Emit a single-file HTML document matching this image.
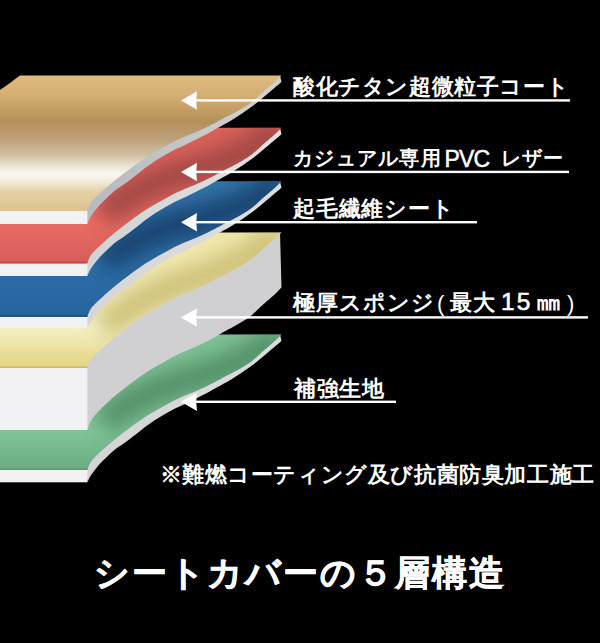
<!DOCTYPE html>
<html><head><meta charset="utf-8"><style>
html,body{margin:0;padding:0;background:#000;}
body{width:600px;height:643px;position:relative;overflow:hidden;font-family:"Liberation Sans",sans-serif;color:#fff;}
svg{position:absolute;left:0;top:0;}
.l{position:absolute;font-size:22px;font-weight:bold;white-space:nowrap;line-height:1;}
.note{position:absolute;left:159.5px;top:464px;font-size:22px;font-weight:bold;white-space:nowrap;line-height:1;letter-spacing:0.6px;}
.title{position:absolute;left:94px;top:555px;font-size:35px;font-weight:bold;white-space:nowrap;line-height:1;letter-spacing:2px;-webkit-text-stroke:0.6px #fff;}
</style></head><body>
<svg width="600" height="643" viewBox="0 0 600 643"><defs><linearGradient id="g_green" gradientUnits="userSpaceOnUse" x1="0" y1="334.00" x2="0" y2="470.00"><stop offset="0.0000" stop-color="#80c296"/><stop offset="0.7059" stop-color="#80c498"/><stop offset="1.0000" stop-color="#6aac82"/></linearGradient><linearGradient id="g_yellow" gradientUnits="userSpaceOnUse" x1="0" y1="232.50" x2="0" y2="368.00"><stop offset="0.0000" stop-color="#f0e8ac"/><stop offset="0.7048" stop-color="#f5f0c2"/><stop offset="0.8303" stop-color="#ede4a6"/><stop offset="1.0000" stop-color="#e2d480"/></linearGradient><linearGradient id="g_blue" gradientUnits="userSpaceOnUse" x1="0" y1="181.00" x2="0" y2="317.00"><stop offset="0.0000" stop-color="#3676ac"/><stop offset="0.6985" stop-color="#2c6ca6"/><stop offset="1.0000" stop-color="#26649e"/></linearGradient><linearGradient id="g_red" gradientUnits="userSpaceOnUse" x1="0" y1="128.00" x2="0" y2="263.00"><stop offset="0.0000" stop-color="#da625a"/><stop offset="0.7111" stop-color="#e86b64"/><stop offset="1.0000" stop-color="#d65e58"/></linearGradient><linearGradient id="g_gold" gradientUnits="userSpaceOnUse" x1="0" y1="75.50" x2="0" y2="211.00"><stop offset="0.0000" stop-color="#e0ba7e"/><stop offset="0.1439" stop-color="#d4ae72"/><stop offset="0.3432" stop-color="#b58f5a"/><stop offset="0.4760" stop-color="#bea27c"/><stop offset="0.5867" stop-color="#d0bfa2"/><stop offset="0.6605" stop-color="#e8e0d0"/><stop offset="0.7269" stop-color="#faf8f2"/><stop offset="0.7860" stop-color="#f2ead8"/><stop offset="0.8598" stop-color="#e4d0a4"/><stop offset="1.0000" stop-color="#dcc290"/></linearGradient><linearGradient id="s_gold" gradientUnits="userSpaceOnUse" x1="88" y1="0" x2="281" y2="0"><stop offset="0" stop-color="#b6babe"/><stop offset="1" stop-color="#d2d2d2"/></linearGradient><linearGradient id="s_red" gradientUnits="userSpaceOnUse" x1="88" y1="0" x2="281" y2="0"><stop offset="0" stop-color="#d2d2d4"/><stop offset="1" stop-color="#e2e2e2"/></linearGradient><linearGradient id="s_blue" gradientUnits="userSpaceOnUse" x1="88" y1="0" x2="281" y2="0"><stop offset="0" stop-color="#d6d6d8"/><stop offset="1" stop-color="#dedede"/></linearGradient><linearGradient id="s_green" gradientUnits="userSpaceOnUse" x1="88" y1="0" x2="281" y2="0"><stop offset="0" stop-color="#d4d4d6"/><stop offset="1" stop-color="#dcdcdc"/></linearGradient><filter id="blur" x="-50%" y="-50%" width="200%" height="200%"><feGaussianBlur stdDeviation="10"/></filter></defs><path d="M280.00,334.50 C279.25,335.25 277.08,337.50 275.50,339.00 C273.92,340.50 273.00,341.33 270.50,343.50 C268.00,345.67 263.83,349.08 260.50,352.00 C257.17,354.92 253.83,358.42 250.50,361.00 C247.17,363.58 243.83,365.50 240.50,367.50 C237.17,369.50 233.33,371.50 230.50,373.00 C227.67,374.50 226.33,375.00 223.50,376.50 C220.67,378.00 216.83,380.25 213.50,382.00 C210.17,383.75 206.83,385.42 203.50,387.00 C200.17,388.58 196.83,390.08 193.50,391.50 C190.17,392.92 186.83,394.08 183.50,395.50 C180.17,396.92 176.83,398.33 173.50,400.00 C170.17,401.67 166.83,403.67 163.50,405.50 C160.17,407.33 156.83,409.08 153.50,411.00 C150.17,412.92 146.83,414.83 143.50,417.00 C140.17,419.17 136.83,421.58 133.50,424.00 C130.17,426.42 126.67,429.08 123.50,431.50 C120.33,433.92 116.78,436.67 114.50,438.50 C112.22,440.33 111.97,440.65 109.80,442.50 C107.63,444.35 104.27,447.10 101.50,449.60 C98.73,452.10 95.28,455.35 93.20,457.50 C91.12,459.65 90.25,460.42 89.00,462.50 C87.75,464.58 86.25,468.75 85.70,470.00 L87.60,482.30 C88.08,481.25 88.63,478.88 90.50,476.00 C92.37,473.12 96.05,468.22 98.80,465.00 C101.55,461.78 104.22,459.37 107.00,456.70 C109.78,454.03 112.83,451.12 115.50,449.00 C118.17,446.88 119.75,446.33 123.00,444.00 C126.25,441.67 131.33,437.83 135.00,435.00 C138.67,432.17 141.67,429.50 145.00,427.00 C148.33,424.50 151.67,422.17 155.00,420.00 C158.33,417.83 161.67,415.92 165.00,414.00 C168.33,412.08 171.67,410.17 175.00,408.50 C178.33,406.83 181.67,405.58 185.00,404.00 C188.33,402.42 191.67,400.67 195.00,399.00 C198.33,397.33 201.67,395.75 205.00,394.00 C208.33,392.25 212.00,390.17 215.00,388.50 C218.00,386.83 220.17,385.58 223.00,384.00 C225.83,382.42 228.83,380.92 232.00,379.00 C235.17,377.08 238.67,374.75 242.00,372.50 C245.33,370.25 248.67,368.00 252.00,365.50 C255.33,363.00 258.67,360.25 262.00,357.50 C265.33,354.75 268.75,351.75 272.00,349.00 C275.25,346.25 279.92,342.33 281.50,341.00 Z" fill="url(#s_green)"/>
<rect x="0" y="470.00" width="87.4" height="12.30" fill="#f2f2f2"/>
<clipPath id="c_green"><path d="M0,470.00 L0,349.00 C4,346.50 14,339.00 20,334.50 L281.50,334.50 C280.75,335.25 278.58,337.50 277.00,339.00 C275.42,340.50 274.50,341.33 272.00,343.50 C269.50,345.67 265.33,349.08 262.00,352.00 C258.67,354.92 255.33,358.42 252.00,361.00 C248.67,363.58 245.33,365.50 242.00,367.50 C238.67,369.50 234.83,371.50 232.00,373.00 C229.17,374.50 227.83,375.00 225.00,376.50 C222.17,378.00 218.33,380.25 215.00,382.00 C211.67,383.75 208.33,385.42 205.00,387.00 C201.67,388.58 198.33,390.08 195.00,391.50 C191.67,392.92 188.33,394.08 185.00,395.50 C181.67,396.92 178.33,398.33 175.00,400.00 C171.67,401.67 168.33,403.67 165.00,405.50 C161.67,407.33 158.33,409.08 155.00,411.00 C151.67,412.92 148.33,414.83 145.00,417.00 C141.67,419.17 138.33,421.58 135.00,424.00 C131.67,426.42 128.17,429.08 125.00,431.50 C121.83,433.92 118.28,436.67 116.00,438.50 C113.72,440.33 113.47,440.65 111.30,442.50 C109.13,444.35 105.77,447.10 103.00,449.60 C100.23,452.10 96.78,455.35 94.70,457.50 C92.62,459.65 91.75,460.42 90.50,462.50 C89.25,464.58 87.75,468.75 87.20,470.00 L0,470.00 Z"/></clipPath>
<path d="M0,470.00 L0,349.00 C4,346.50 14,339.00 20,334.50 L281.50,334.50 C280.75,335.25 278.58,337.50 277.00,339.00 C275.42,340.50 274.50,341.33 272.00,343.50 C269.50,345.67 265.33,349.08 262.00,352.00 C258.67,354.92 255.33,358.42 252.00,361.00 C248.67,363.58 245.33,365.50 242.00,367.50 C238.67,369.50 234.83,371.50 232.00,373.00 C229.17,374.50 227.83,375.00 225.00,376.50 C222.17,378.00 218.33,380.25 215.00,382.00 C211.67,383.75 208.33,385.42 205.00,387.00 C201.67,388.58 198.33,390.08 195.00,391.50 C191.67,392.92 188.33,394.08 185.00,395.50 C181.67,396.92 178.33,398.33 175.00,400.00 C171.67,401.67 168.33,403.67 165.00,405.50 C161.67,407.33 158.33,409.08 155.00,411.00 C151.67,412.92 148.33,414.83 145.00,417.00 C141.67,419.17 138.33,421.58 135.00,424.00 C131.67,426.42 128.17,429.08 125.00,431.50 C121.83,433.92 118.28,436.67 116.00,438.50 C113.72,440.33 113.47,440.65 111.30,442.50 C109.13,444.35 105.77,447.10 103.00,449.60 C100.23,452.10 96.78,455.35 94.70,457.50 C92.62,459.65 91.75,460.42 90.50,462.50 C89.25,464.58 87.75,468.75 87.20,470.00 L0,470.00 Z" fill="url(#g_green)"/>
<rect x="0" y="468.40" width="87.4" height="1.6" fill="#5a9a70" opacity="0.9"/>
<g clip-path="url(#c_green)"><path d="M281.50,334.50 C280.75,335.13 278.58,337.05 277.00,338.31 C275.42,339.56 274.50,340.25 272.00,342.03 C269.50,343.81 265.33,346.59 262.00,348.99 C258.67,351.39 255.33,354.38 252.00,356.45 C248.67,358.51 245.33,359.92 242.00,361.40 C238.67,362.89 234.83,364.29 232.00,365.36 C229.17,366.42 227.83,366.71 225.00,367.78 C222.17,368.84 218.33,370.50 215.00,371.73 C211.67,372.97 208.33,374.12 205.00,375.19 C201.67,376.26 198.33,377.24 195.00,378.14 C191.67,379.05 188.33,379.70 185.00,380.60 C181.67,381.50 178.33,382.40 175.00,383.56 C171.67,384.71 168.33,386.19 165.00,387.51 C161.67,388.83 158.33,390.07 155.00,391.47 C151.67,392.87 148.33,394.27 145.00,395.92 C141.67,397.58 138.33,399.48 135.00,401.38 C131.67,403.28 128.17,405.41 125.00,407.34 C121.83,409.26 118.28,411.47 116.00,412.95 C113.72,414.43 113.47,414.71 111.30,416.22 C109.13,417.74 104.38,421.07 103.00,422.04" fill="none" stroke="#4a8560" stroke-width="30" filter="url(#blur)" opacity="0.8"/></g>
<path d="M280.00,232.50 C279.25,233.25 277.08,235.50 275.50,237.00 C273.92,238.50 273.00,239.33 270.50,241.50 C268.00,243.67 263.83,247.08 260.50,250.00 C257.17,252.92 253.83,256.42 250.50,259.00 C247.17,261.58 243.83,263.50 240.50,265.50 C237.17,267.50 233.33,269.50 230.50,271.00 C227.67,272.50 226.33,273.00 223.50,274.50 C220.67,276.00 216.83,278.25 213.50,280.00 C210.17,281.75 206.83,283.42 203.50,285.00 C200.17,286.58 196.83,288.08 193.50,289.50 C190.17,290.92 186.83,292.08 183.50,293.50 C180.17,294.92 176.83,296.33 173.50,298.00 C170.17,299.67 166.83,301.67 163.50,303.50 C160.17,305.33 156.83,307.08 153.50,309.00 C150.17,310.92 146.83,312.83 143.50,315.00 C140.17,317.17 136.83,319.58 133.50,322.00 C130.17,324.42 126.67,327.08 123.50,329.50 C120.33,331.92 116.78,334.67 114.50,336.50 C112.22,338.33 111.97,338.65 109.80,340.50 C107.63,342.35 104.27,345.10 101.50,347.60 C98.73,350.10 95.28,353.35 93.20,355.50 C91.12,357.65 90.25,358.42 89.00,360.50 C87.75,362.58 86.25,366.75 85.70,368.00 L87.20,430.00 C87.75,428.61 89.25,424.06 90.50,421.65 C91.75,419.25 92.62,418.05 94.70,415.58 C96.78,413.10 100.23,409.56 103.00,406.80 C105.77,404.04 109.13,400.96 111.30,398.99 C113.47,397.02 113.72,396.81 116.00,394.96 C118.28,393.11 121.83,390.34 125.00,387.90 C128.17,385.46 131.67,382.78 135.00,380.33 C138.33,377.89 141.67,375.44 145.00,373.23 C148.33,371.03 151.67,369.06 155.00,367.10 C158.33,365.14 161.67,363.34 165.00,361.47 C168.33,359.59 171.67,357.54 175.00,355.83 C178.33,354.12 181.67,352.66 185.00,351.20 C188.33,349.74 191.67,348.54 195.00,347.07 C198.33,345.59 201.67,344.02 205.00,342.35 C208.33,340.68 211.67,338.89 215.00,337.04 C218.33,335.19 222.17,332.82 225.00,331.23 C227.83,329.65 229.17,329.11 232.00,327.52 C234.83,325.93 238.67,323.81 242.00,321.71 C245.33,319.61 248.67,317.59 252.00,314.90 C255.33,312.22 258.67,308.62 262.00,305.60 C265.33,302.58 269.50,299.03 272.00,296.79 C274.50,294.55 275.42,293.69 277.00,292.14 C278.58,290.59 280.75,288.27 281.50,287.50 Z" fill="#d0d0d3"/>
<rect x="0" y="368.00" width="87.4" height="62.00" fill="#f2f2f4"/>
<clipPath id="c_yellow"><path d="M0,368.00 L0,247.00 C4,244.50 14,237.00 20,232.50 L281.50,232.50 C280.75,233.25 278.58,235.50 277.00,237.00 C275.42,238.50 274.50,239.33 272.00,241.50 C269.50,243.67 265.33,247.08 262.00,250.00 C258.67,252.92 255.33,256.42 252.00,259.00 C248.67,261.58 245.33,263.50 242.00,265.50 C238.67,267.50 234.83,269.50 232.00,271.00 C229.17,272.50 227.83,273.00 225.00,274.50 C222.17,276.00 218.33,278.25 215.00,280.00 C211.67,281.75 208.33,283.42 205.00,285.00 C201.67,286.58 198.33,288.08 195.00,289.50 C191.67,290.92 188.33,292.08 185.00,293.50 C181.67,294.92 178.33,296.33 175.00,298.00 C171.67,299.67 168.33,301.67 165.00,303.50 C161.67,305.33 158.33,307.08 155.00,309.00 C151.67,310.92 148.33,312.83 145.00,315.00 C141.67,317.17 138.33,319.58 135.00,322.00 C131.67,324.42 128.17,327.08 125.00,329.50 C121.83,331.92 118.28,334.67 116.00,336.50 C113.72,338.33 113.47,338.65 111.30,340.50 C109.13,342.35 105.77,345.10 103.00,347.60 C100.23,350.10 96.78,353.35 94.70,355.50 C92.62,357.65 91.75,358.42 90.50,360.50 C89.25,362.58 87.75,366.75 87.20,368.00 L0,368.00 Z"/></clipPath>
<path d="M0,368.00 L0,247.00 C4,244.50 14,237.00 20,232.50 L281.50,232.50 C280.75,233.25 278.58,235.50 277.00,237.00 C275.42,238.50 274.50,239.33 272.00,241.50 C269.50,243.67 265.33,247.08 262.00,250.00 C258.67,252.92 255.33,256.42 252.00,259.00 C248.67,261.58 245.33,263.50 242.00,265.50 C238.67,267.50 234.83,269.50 232.00,271.00 C229.17,272.50 227.83,273.00 225.00,274.50 C222.17,276.00 218.33,278.25 215.00,280.00 C211.67,281.75 208.33,283.42 205.00,285.00 C201.67,286.58 198.33,288.08 195.00,289.50 C191.67,290.92 188.33,292.08 185.00,293.50 C181.67,294.92 178.33,296.33 175.00,298.00 C171.67,299.67 168.33,301.67 165.00,303.50 C161.67,305.33 158.33,307.08 155.00,309.00 C151.67,310.92 148.33,312.83 145.00,315.00 C141.67,317.17 138.33,319.58 135.00,322.00 C131.67,324.42 128.17,327.08 125.00,329.50 C121.83,331.92 118.28,334.67 116.00,336.50 C113.72,338.33 113.47,338.65 111.30,340.50 C109.13,342.35 105.77,345.10 103.00,347.60 C100.23,350.10 96.78,353.35 94.70,355.50 C92.62,357.65 91.75,358.42 90.50,360.50 C89.25,362.58 87.75,366.75 87.20,368.00 L0,368.00 Z" fill="url(#g_yellow)"/>
<rect x="0" y="366.40" width="87.4" height="1.6" fill="#c8b868" opacity="0.9"/>
<g clip-path="url(#c_yellow)"><path d="M281.50,232.50 C280.75,233.17 278.58,235.17 277.00,236.49 C275.42,237.81 274.50,238.54 272.00,240.42 C269.50,242.31 265.33,245.25 262.00,247.79 C258.67,250.33 255.33,253.45 252.00,255.66 C248.67,257.87 245.33,259.40 242.00,261.03 C238.67,262.65 234.83,264.22 232.00,265.40 C229.17,266.57 227.83,266.92 225.00,268.10 C222.17,269.28 218.33,271.10 215.00,272.47 C211.67,273.84 208.33,275.13 205.00,276.34 C201.67,277.54 198.33,278.67 195.00,279.71 C191.67,280.75 188.33,281.53 185.00,282.57 C181.67,283.61 178.33,284.65 175.00,285.94 C171.67,287.23 168.33,288.85 165.00,290.31 C161.67,291.76 158.33,293.14 155.00,294.68 C151.67,296.22 148.33,297.76 145.00,299.54 C141.67,301.33 138.33,303.37 135.00,305.41 C131.67,307.45 128.17,309.72 125.00,311.78 C121.83,313.84 118.28,316.19 116.00,317.76 C113.72,319.34 113.47,319.62 111.30,321.23 C109.13,322.83 104.38,326.36 103.00,327.39" fill="none" stroke="#c0b060" stroke-width="30" filter="url(#blur)" opacity="0.7"/></g>
<path d="M280.00,181.30 C279.25,182.05 277.08,184.30 275.50,185.80 C273.92,187.30 273.00,188.13 270.50,190.30 C268.00,192.47 263.83,195.88 260.50,198.80 C257.17,201.72 253.83,205.22 250.50,207.80 C247.17,210.38 243.83,212.30 240.50,214.30 C237.17,216.30 233.33,218.30 230.50,219.80 C227.67,221.30 226.33,221.80 223.50,223.30 C220.67,224.80 216.83,227.05 213.50,228.80 C210.17,230.55 206.83,232.22 203.50,233.80 C200.17,235.38 196.83,236.88 193.50,238.30 C190.17,239.72 186.83,240.88 183.50,242.30 C180.17,243.72 176.83,245.13 173.50,246.80 C170.17,248.47 166.83,250.47 163.50,252.30 C160.17,254.13 156.83,255.88 153.50,257.80 C150.17,259.72 146.83,261.63 143.50,263.80 C140.17,265.97 136.83,268.38 133.50,270.80 C130.17,273.22 126.67,275.88 123.50,278.30 C120.33,280.72 116.78,283.47 114.50,285.30 C112.22,287.13 111.97,287.45 109.80,289.30 C107.63,291.15 104.27,293.90 101.50,296.40 C98.73,298.90 95.28,302.15 93.20,304.30 C91.12,306.45 90.25,307.22 89.00,309.30 C87.75,311.38 86.25,315.55 85.70,316.80 L87.60,328.00 C88.08,327.13 88.63,325.50 90.50,322.80 C92.37,320.10 96.05,315.02 98.80,311.80 C101.55,308.58 104.22,306.17 107.00,303.50 C109.78,300.83 112.83,297.92 115.50,295.80 C118.17,293.68 119.75,293.13 123.00,290.80 C126.25,288.47 131.33,284.63 135.00,281.80 C138.67,278.97 141.67,276.30 145.00,273.80 C148.33,271.30 151.67,268.97 155.00,266.80 C158.33,264.63 161.67,262.72 165.00,260.80 C168.33,258.88 171.67,256.97 175.00,255.30 C178.33,253.63 181.67,252.38 185.00,250.80 C188.33,249.22 191.67,247.47 195.00,245.80 C198.33,244.13 201.67,242.55 205.00,240.80 C208.33,239.05 212.00,236.97 215.00,235.30 C218.00,233.63 220.17,232.38 223.00,230.80 C225.83,229.22 228.83,227.72 232.00,225.80 C235.17,223.88 238.67,221.55 242.00,219.30 C245.33,217.05 248.67,214.80 252.00,212.30 C255.33,209.80 258.67,207.05 262.00,204.30 C265.33,201.55 268.75,198.55 272.00,195.80 C275.25,193.05 279.92,189.13 281.50,187.80 Z" fill="url(#s_blue)"/>
<rect x="0" y="316.80" width="87.4" height="11.20" fill="#f2f2f2"/>
<clipPath id="c_blue"><path d="M0,316.80 L0,195.80 C4,193.30 14,185.80 20,181.30 L281.50,181.30 C280.75,182.05 278.58,184.30 277.00,185.80 C275.42,187.30 274.50,188.13 272.00,190.30 C269.50,192.47 265.33,195.88 262.00,198.80 C258.67,201.72 255.33,205.22 252.00,207.80 C248.67,210.38 245.33,212.30 242.00,214.30 C238.67,216.30 234.83,218.30 232.00,219.80 C229.17,221.30 227.83,221.80 225.00,223.30 C222.17,224.80 218.33,227.05 215.00,228.80 C211.67,230.55 208.33,232.22 205.00,233.80 C201.67,235.38 198.33,236.88 195.00,238.30 C191.67,239.72 188.33,240.88 185.00,242.30 C181.67,243.72 178.33,245.13 175.00,246.80 C171.67,248.47 168.33,250.47 165.00,252.30 C161.67,254.13 158.33,255.88 155.00,257.80 C151.67,259.72 148.33,261.63 145.00,263.80 C141.67,265.97 138.33,268.38 135.00,270.80 C131.67,273.22 128.17,275.88 125.00,278.30 C121.83,280.72 118.28,283.47 116.00,285.30 C113.72,287.13 113.47,287.45 111.30,289.30 C109.13,291.15 105.77,293.90 103.00,296.40 C100.23,298.90 96.78,302.15 94.70,304.30 C92.62,306.45 91.75,307.22 90.50,309.30 C89.25,311.38 87.75,315.55 87.20,316.80 L0,316.80 Z"/></clipPath>
<path d="M0,316.80 L0,195.80 C4,193.30 14,185.80 20,181.30 L281.50,181.30 C280.75,182.05 278.58,184.30 277.00,185.80 C275.42,187.30 274.50,188.13 272.00,190.30 C269.50,192.47 265.33,195.88 262.00,198.80 C258.67,201.72 255.33,205.22 252.00,207.80 C248.67,210.38 245.33,212.30 242.00,214.30 C238.67,216.30 234.83,218.30 232.00,219.80 C229.17,221.30 227.83,221.80 225.00,223.30 C222.17,224.80 218.33,227.05 215.00,228.80 C211.67,230.55 208.33,232.22 205.00,233.80 C201.67,235.38 198.33,236.88 195.00,238.30 C191.67,239.72 188.33,240.88 185.00,242.30 C181.67,243.72 178.33,245.13 175.00,246.80 C171.67,248.47 168.33,250.47 165.00,252.30 C161.67,254.13 158.33,255.88 155.00,257.80 C151.67,259.72 148.33,261.63 145.00,263.80 C141.67,265.97 138.33,268.38 135.00,270.80 C131.67,273.22 128.17,275.88 125.00,278.30 C121.83,280.72 118.28,283.47 116.00,285.30 C113.72,287.13 113.47,287.45 111.30,289.30 C109.13,291.15 105.77,293.90 103.00,296.40 C100.23,298.90 96.78,302.15 94.70,304.30 C92.62,306.45 91.75,307.22 90.50,309.30 C89.25,311.38 87.75,315.55 87.20,316.80 L0,316.80 Z" fill="url(#g_blue)"/>
<rect x="0" y="315.20" width="87.4" height="1.6" fill="#1a4a78" opacity="0.9"/>
<g clip-path="url(#c_blue)"><path d="M281.50,181.30 C280.75,181.90 278.58,183.70 277.00,184.87 C275.42,186.05 274.50,186.69 272.00,188.34 C269.50,190.00 265.33,192.56 262.00,194.79 C258.67,197.02 255.33,199.83 252.00,201.73 C248.67,203.62 245.33,204.85 242.00,206.17 C238.67,207.48 234.83,208.69 232.00,209.61 C229.17,210.53 227.83,210.75 225.00,211.67 C222.17,212.59 218.33,214.05 215.00,215.11 C211.67,216.17 208.33,217.15 205.00,218.05 C201.67,218.95 198.33,219.76 195.00,220.49 C191.67,221.22 188.33,221.70 185.00,222.43 C181.67,223.16 178.33,223.89 175.00,224.88 C171.67,225.86 168.33,227.17 165.00,228.32 C161.67,229.46 158.33,230.53 155.00,231.76 C151.67,232.99 148.33,234.22 145.00,235.70 C141.67,237.18 138.33,238.91 135.00,240.64 C131.67,242.37 128.17,244.32 125.00,246.08 C121.83,247.85 118.28,249.87 116.00,251.23 C113.72,252.59 113.47,252.86 111.30,254.26 C109.13,255.67 104.38,258.75 103.00,259.65" fill="none" stroke="#173f6a" stroke-width="30" filter="url(#blur)" opacity="0.9"/></g>
<path d="M280.00,127.80 C279.25,128.55 277.08,130.80 275.50,132.30 C273.92,133.80 273.00,134.63 270.50,136.80 C268.00,138.97 263.83,142.38 260.50,145.30 C257.17,148.22 253.83,151.72 250.50,154.30 C247.17,156.88 243.83,158.80 240.50,160.80 C237.17,162.80 233.33,164.80 230.50,166.30 C227.67,167.80 226.33,168.30 223.50,169.80 C220.67,171.30 216.83,173.55 213.50,175.30 C210.17,177.05 206.83,178.72 203.50,180.30 C200.17,181.88 196.83,183.38 193.50,184.80 C190.17,186.22 186.83,187.38 183.50,188.80 C180.17,190.22 176.83,191.63 173.50,193.30 C170.17,194.97 166.83,196.97 163.50,198.80 C160.17,200.63 156.83,202.38 153.50,204.30 C150.17,206.22 146.83,208.13 143.50,210.30 C140.17,212.47 136.83,214.88 133.50,217.30 C130.17,219.72 126.67,222.38 123.50,224.80 C120.33,227.22 116.78,229.97 114.50,231.80 C112.22,233.63 111.97,233.95 109.80,235.80 C107.63,237.65 104.27,240.40 101.50,242.90 C98.73,245.40 95.28,248.65 93.20,250.80 C91.12,252.95 90.25,253.72 89.00,255.80 C87.75,257.88 86.25,262.05 85.70,263.30 L87.60,276.00 C88.08,274.88 88.63,272.25 90.50,269.30 C92.37,266.35 96.05,261.52 98.80,258.30 C101.55,255.08 104.22,252.67 107.00,250.00 C109.78,247.33 112.83,244.42 115.50,242.30 C118.17,240.18 119.75,239.63 123.00,237.30 C126.25,234.97 131.33,231.13 135.00,228.30 C138.67,225.47 141.67,222.80 145.00,220.30 C148.33,217.80 151.67,215.47 155.00,213.30 C158.33,211.13 161.67,209.22 165.00,207.30 C168.33,205.38 171.67,203.47 175.00,201.80 C178.33,200.13 181.67,198.88 185.00,197.30 C188.33,195.72 191.67,193.97 195.00,192.30 C198.33,190.63 201.67,189.05 205.00,187.30 C208.33,185.55 212.00,183.47 215.00,181.80 C218.00,180.13 220.17,178.88 223.00,177.30 C225.83,175.72 228.83,174.22 232.00,172.30 C235.17,170.38 238.67,168.05 242.00,165.80 C245.33,163.55 248.67,161.30 252.00,158.80 C255.33,156.30 258.67,153.55 262.00,150.80 C265.33,148.05 268.75,145.05 272.00,142.30 C275.25,139.55 279.92,135.63 281.50,134.30 Z" fill="url(#s_red)"/>
<rect x="0" y="263.30" width="87.4" height="12.70" fill="#f2f2f2"/>
<clipPath id="c_red"><path d="M0,263.30 L0,142.30 C4,139.80 14,132.30 20,127.80 L281.50,127.80 C280.75,128.55 278.58,130.80 277.00,132.30 C275.42,133.80 274.50,134.63 272.00,136.80 C269.50,138.97 265.33,142.38 262.00,145.30 C258.67,148.22 255.33,151.72 252.00,154.30 C248.67,156.88 245.33,158.80 242.00,160.80 C238.67,162.80 234.83,164.80 232.00,166.30 C229.17,167.80 227.83,168.30 225.00,169.80 C222.17,171.30 218.33,173.55 215.00,175.30 C211.67,177.05 208.33,178.72 205.00,180.30 C201.67,181.88 198.33,183.38 195.00,184.80 C191.67,186.22 188.33,187.38 185.00,188.80 C181.67,190.22 178.33,191.63 175.00,193.30 C171.67,194.97 168.33,196.97 165.00,198.80 C161.67,200.63 158.33,202.38 155.00,204.30 C151.67,206.22 148.33,208.13 145.00,210.30 C141.67,212.47 138.33,214.88 135.00,217.30 C131.67,219.72 128.17,222.38 125.00,224.80 C121.83,227.22 118.28,229.97 116.00,231.80 C113.72,233.63 113.47,233.95 111.30,235.80 C109.13,237.65 105.77,240.40 103.00,242.90 C100.23,245.40 96.78,248.65 94.70,250.80 C92.62,252.95 91.75,253.72 90.50,255.80 C89.25,257.88 87.75,262.05 87.20,263.30 L0,263.30 Z"/></clipPath>
<path d="M0,263.30 L0,142.30 C4,139.80 14,132.30 20,127.80 L281.50,127.80 C280.75,128.55 278.58,130.80 277.00,132.30 C275.42,133.80 274.50,134.63 272.00,136.80 C269.50,138.97 265.33,142.38 262.00,145.30 C258.67,148.22 255.33,151.72 252.00,154.30 C248.67,156.88 245.33,158.80 242.00,160.80 C238.67,162.80 234.83,164.80 232.00,166.30 C229.17,167.80 227.83,168.30 225.00,169.80 C222.17,171.30 218.33,173.55 215.00,175.30 C211.67,177.05 208.33,178.72 205.00,180.30 C201.67,181.88 198.33,183.38 195.00,184.80 C191.67,186.22 188.33,187.38 185.00,188.80 C181.67,190.22 178.33,191.63 175.00,193.30 C171.67,194.97 168.33,196.97 165.00,198.80 C161.67,200.63 158.33,202.38 155.00,204.30 C151.67,206.22 148.33,208.13 145.00,210.30 C141.67,212.47 138.33,214.88 135.00,217.30 C131.67,219.72 128.17,222.38 125.00,224.80 C121.83,227.22 118.28,229.97 116.00,231.80 C113.72,233.63 113.47,233.95 111.30,235.80 C109.13,237.65 105.77,240.40 103.00,242.90 C100.23,245.40 96.78,248.65 94.70,250.80 C92.62,252.95 91.75,253.72 90.50,255.80 C89.25,257.88 87.75,262.05 87.20,263.30 L0,263.30 Z" fill="url(#g_red)"/>
<rect x="0" y="261.70" width="87.4" height="1.6" fill="#b84c48" opacity="0.9"/>
<g clip-path="url(#c_red)"><path d="M281.50,127.80 C280.75,128.43 278.58,130.32 277.00,131.56 C275.42,132.80 274.50,133.48 272.00,135.24 C269.50,136.99 265.33,139.72 262.00,142.09 C258.67,144.46 255.33,147.41 252.00,149.44 C248.67,151.48 245.33,152.84 242.00,154.29 C238.67,155.75 234.83,157.11 232.00,158.15 C229.17,159.18 227.83,159.46 225.00,160.49 C222.17,161.53 218.33,163.15 215.00,164.35 C211.67,165.55 208.33,166.67 205.00,167.70 C201.67,168.74 198.33,169.69 195.00,170.55 C191.67,171.42 188.33,172.04 185.00,172.91 C181.67,173.77 178.33,174.64 175.00,175.76 C171.67,176.88 168.33,178.33 165.00,179.61 C161.67,180.90 158.33,182.10 155.00,183.47 C151.67,184.83 148.33,186.20 145.00,187.82 C141.67,189.44 138.33,191.30 135.00,193.17 C131.67,195.04 128.17,197.13 125.00,199.03 C121.83,200.92 118.28,203.09 116.00,204.54 C113.72,206.00 113.47,206.28 111.30,207.77 C109.13,209.26 104.38,212.55 103.00,213.50" fill="none" stroke="#9c4442" stroke-width="30" filter="url(#blur)" opacity="0.9"/></g>
<path d="M280.00,75.50 C279.25,76.25 277.08,78.50 275.50,80.00 C273.92,81.50 273.00,82.33 270.50,84.50 C268.00,86.67 263.83,90.08 260.50,93.00 C257.17,95.92 253.83,99.42 250.50,102.00 C247.17,104.58 243.83,106.50 240.50,108.50 C237.17,110.50 233.33,112.50 230.50,114.00 C227.67,115.50 226.33,116.00 223.50,117.50 C220.67,119.00 216.83,121.25 213.50,123.00 C210.17,124.75 206.83,126.42 203.50,128.00 C200.17,129.58 196.83,131.08 193.50,132.50 C190.17,133.92 186.83,135.08 183.50,136.50 C180.17,137.92 176.83,139.33 173.50,141.00 C170.17,142.67 166.83,144.67 163.50,146.50 C160.17,148.33 156.83,150.08 153.50,152.00 C150.17,153.92 146.83,155.83 143.50,158.00 C140.17,160.17 136.83,162.58 133.50,165.00 C130.17,167.42 126.67,170.08 123.50,172.50 C120.33,174.92 116.78,177.67 114.50,179.50 C112.22,181.33 111.97,181.65 109.80,183.50 C107.63,185.35 104.27,188.10 101.50,190.60 C98.73,193.10 95.28,196.35 93.20,198.50 C91.12,200.65 90.25,201.42 89.00,203.50 C87.75,205.58 86.25,209.75 85.70,211.00 L87.60,224.00 C88.08,222.83 88.63,220.00 90.50,217.00 C92.37,214.00 96.05,209.22 98.80,206.00 C101.55,202.78 104.22,200.37 107.00,197.70 C109.78,195.03 112.83,192.12 115.50,190.00 C118.17,187.88 119.75,187.33 123.00,185.00 C126.25,182.67 131.33,178.83 135.00,176.00 C138.67,173.17 141.67,170.50 145.00,168.00 C148.33,165.50 151.67,163.17 155.00,161.00 C158.33,158.83 161.67,156.92 165.00,155.00 C168.33,153.08 171.67,151.17 175.00,149.50 C178.33,147.83 181.67,146.58 185.00,145.00 C188.33,143.42 191.67,141.67 195.00,140.00 C198.33,138.33 201.67,136.75 205.00,135.00 C208.33,133.25 212.00,131.17 215.00,129.50 C218.00,127.83 220.17,126.58 223.00,125.00 C225.83,123.42 228.83,121.92 232.00,120.00 C235.17,118.08 238.67,115.75 242.00,113.50 C245.33,111.25 248.67,109.00 252.00,106.50 C255.33,104.00 258.67,101.25 262.00,98.50 C265.33,95.75 268.75,92.75 272.00,90.00 C275.25,87.25 279.92,83.33 281.50,82.00 Z" fill="url(#s_gold)"/>
<rect x="0" y="211.00" width="87.4" height="13.00" fill="#f2f2f2"/>
<clipPath id="c_gold"><path d="M0,211.00 L0,90.00 C4,87.50 14,80.00 20,75.50 L281.50,75.50 C280.75,76.25 278.58,78.50 277.00,80.00 C275.42,81.50 274.50,82.33 272.00,84.50 C269.50,86.67 265.33,90.08 262.00,93.00 C258.67,95.92 255.33,99.42 252.00,102.00 C248.67,104.58 245.33,106.50 242.00,108.50 C238.67,110.50 234.83,112.50 232.00,114.00 C229.17,115.50 227.83,116.00 225.00,117.50 C222.17,119.00 218.33,121.25 215.00,123.00 C211.67,124.75 208.33,126.42 205.00,128.00 C201.67,129.58 198.33,131.08 195.00,132.50 C191.67,133.92 188.33,135.08 185.00,136.50 C181.67,137.92 178.33,139.33 175.00,141.00 C171.67,142.67 168.33,144.67 165.00,146.50 C161.67,148.33 158.33,150.08 155.00,152.00 C151.67,153.92 148.33,155.83 145.00,158.00 C141.67,160.17 138.33,162.58 135.00,165.00 C131.67,167.42 128.17,170.08 125.00,172.50 C121.83,174.92 118.28,177.67 116.00,179.50 C113.72,181.33 113.47,181.65 111.30,183.50 C109.13,185.35 105.77,188.10 103.00,190.60 C100.23,193.10 96.78,196.35 94.70,198.50 C92.62,200.65 91.75,201.42 90.50,203.50 C89.25,205.58 87.75,209.75 87.20,211.00 L0,211.00 Z"/></clipPath>
<path d="M0,211.00 L0,90.00 C4,87.50 14,80.00 20,75.50 L281.50,75.50 C280.75,76.25 278.58,78.50 277.00,80.00 C275.42,81.50 274.50,82.33 272.00,84.50 C269.50,86.67 265.33,90.08 262.00,93.00 C258.67,95.92 255.33,99.42 252.00,102.00 C248.67,104.58 245.33,106.50 242.00,108.50 C238.67,110.50 234.83,112.50 232.00,114.00 C229.17,115.50 227.83,116.00 225.00,117.50 C222.17,119.00 218.33,121.25 215.00,123.00 C211.67,124.75 208.33,126.42 205.00,128.00 C201.67,129.58 198.33,131.08 195.00,132.50 C191.67,133.92 188.33,135.08 185.00,136.50 C181.67,137.92 178.33,139.33 175.00,141.00 C171.67,142.67 168.33,144.67 165.00,146.50 C161.67,148.33 158.33,150.08 155.00,152.00 C151.67,153.92 148.33,155.83 145.00,158.00 C141.67,160.17 138.33,162.58 135.00,165.00 C131.67,167.42 128.17,170.08 125.00,172.50 C121.83,174.92 118.28,177.67 116.00,179.50 C113.72,181.33 113.47,181.65 111.30,183.50 C109.13,185.35 105.77,188.10 103.00,190.60 C100.23,193.10 96.78,196.35 94.70,198.50 C92.62,200.65 91.75,201.42 90.50,203.50 C89.25,205.58 87.75,209.75 87.20,211.00 L0,211.00 Z" fill="url(#g_gold)"/>
<path d="M181,100.40 L197,91.15 Q195.5,100.40 197,109.65 Z" fill="#ffffff"/>
<rect x="196" y="99.20" width="374.00" height="2.4" fill="#ffffff"/>
<path d="M181,171.90 L197,162.65 Q195.5,171.90 197,181.15 Z" fill="#ffffff"/>
<rect x="196" y="170.70" width="373.00" height="2.4" fill="#ffffff"/>
<path d="M181,222.20 L197,212.95 Q195.5,222.20 197,231.45 Z" fill="#ffffff"/>
<rect x="196" y="221.00" width="281.00" height="2.4" fill="#ffffff"/>
<path d="M181,317.40 L197,308.15 Q195.5,317.40 197,326.65 Z" fill="#ffffff"/>
<rect x="196" y="316.20" width="392.00" height="2.4" fill="#ffffff"/>
<path d="M181,401.80 L197,392.55 Q195.5,401.80 197,411.05 Z" fill="#ffffff"/>
<rect x="196" y="400.60" width="200.00" height="2.4" fill="#ffffff"/></svg>
<div class="l" style="left:293px;top:75.5px;font-size:22px;letter-spacing:0.6px;">酸化チタン超微粒子コート</div>
<div class="l" style="left:293px;top:147.5px;font-size:20px;letter-spacing:1.25px;">カジュアル専用</div>
<div class="l" style="left:444.5px;top:147.5px;font-size:23px;letter-spacing:-0.8px;font-weight:normal;-webkit-text-stroke:0.5px #fff;">PVC</div>
<div class="l" style="left:500.5px;top:147.5px;font-size:20px;letter-spacing:1.2px;">レザー</div>
<div class="l" style="left:293px;top:197.5px;font-size:22px;letter-spacing:0.8px;">起毛繊維シート</div>
<div class="l" style="left:292.5px;top:291.5px;font-size:22px;letter-spacing:1.2px;">極厚スポンジ</div>
<div class="l" style="left:437px;top:292.5px;font-size:22px;letter-spacing:0px;font-weight:normal;">(</div>
<div class="l" style="left:450px;top:291.5px;font-size:22px;letter-spacing:1.2px;">最大</div>
<div class="l" style="left:501px;top:290px;font-size:24.5px;letter-spacing:2.2px;font-weight:normal;-webkit-text-stroke:0.6px #fff;">15</div>
<div class="l" style="left:535.5px;top:290px;font-size:24.5px;letter-spacing:0px;">㎜</div>
<div class="l" style="left:567px;top:292.5px;font-size:22px;letter-spacing:0px;font-weight:normal;">)</div>
<div class="l" style="left:294px;top:377.5px;font-size:22px;letter-spacing:0.5px;">補強生地</div>
<div class="note">※難燃コーティング及び抗菌防臭加工施工</div>
<div class="title">シートカバーの５層構造</div>
</body></html>
